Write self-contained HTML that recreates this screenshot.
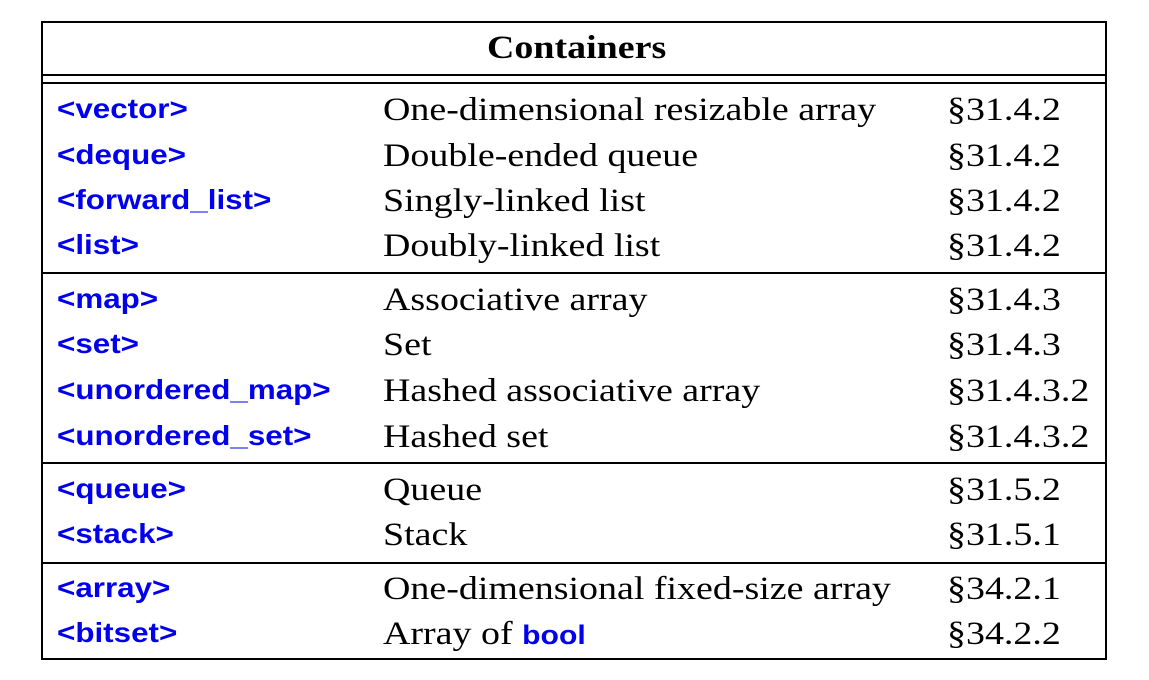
<!DOCTYPE html>
<html><head><meta charset="utf-8"><style>
body{margin:0;background:#fff;width:1149px;height:680px;position:relative;overflow:hidden}
.box{position:absolute;left:41px;top:21px;width:1066px;height:639px;border:2px solid #000;box-sizing:border-box}
.h{position:absolute;left:41px;width:1066px;height:2px;background:#000}
.t{position:absolute;line-height:1;white-space:nowrap;transform-origin:0 0}
.c{font-family:"Liberation Sans",sans-serif;font-weight:bold;color:#0000ee;font-size:28px}
.s{font-family:"Liberation Serif",serif;font-size:33px;color:#000}
.t.c{transform:scaleX(1.12)}
.t.s{transform:scaleX(1.15)}
.b{display:inline-block;transform:scaleX(0.97);transform-origin:0 0;font-size:27px}
</style></head><body>
<div class="box"></div>
<div class="t s" style="left:487px;top:32px;font-weight:bold">Containers</div>
<div class="h" style="top:74px"></div>
<div class="h" style="top:82px"></div>
<div class="h" style="top:272px"></div>
<div class="h" style="top:462px"></div>
<div class="h" style="top:562px"></div>
<div id="rows"></div>
<script>
var r=[["<vector>","One-dimensional resizable array","§31.4.2",108],
["<deque>","Double-ended queue","§31.4.2",154],
["<forward_list>","Singly-linked list","§31.4.2",199],
["<list>","Doubly-linked list","§31.4.2",244],
["<map>","Associative array","§31.4.3",298],
["<set>","Set","§31.4.3",343],
["<unordered_map>","Hashed associative array","§31.4.3.2",389],
["<unordered_set>","Hashed set","§31.4.3.2",435],
["<queue>","Queue","§31.5.2",488],
["<stack>","Stack","§31.5.1",533],
["<array>","One-dimensional fixed-size array","§34.2.1",587],
["<bitset>","Array of <span class='c b'>bool</span>","§34.2.2",632]];
var h="";
function e(s){return s.replace(/</g,"&lt;").replace(/>/g,"&gt;")}
r.forEach(function(x){
h+='<div class="t c" style="left:57px;top:'+(x[3]-13)+'px">'+e(x[0])+'</div>';
h+='<div class="t s" style="left:383px;top:'+(x[3]-14)+'px">'+x[1]+'</div>';
h+='<div class="t s" style="left:947px;top:'+(x[3]-14)+'px">'+x[2]+'</div>';
});
document.getElementById("rows").innerHTML=h;
</script>
</body></html>
